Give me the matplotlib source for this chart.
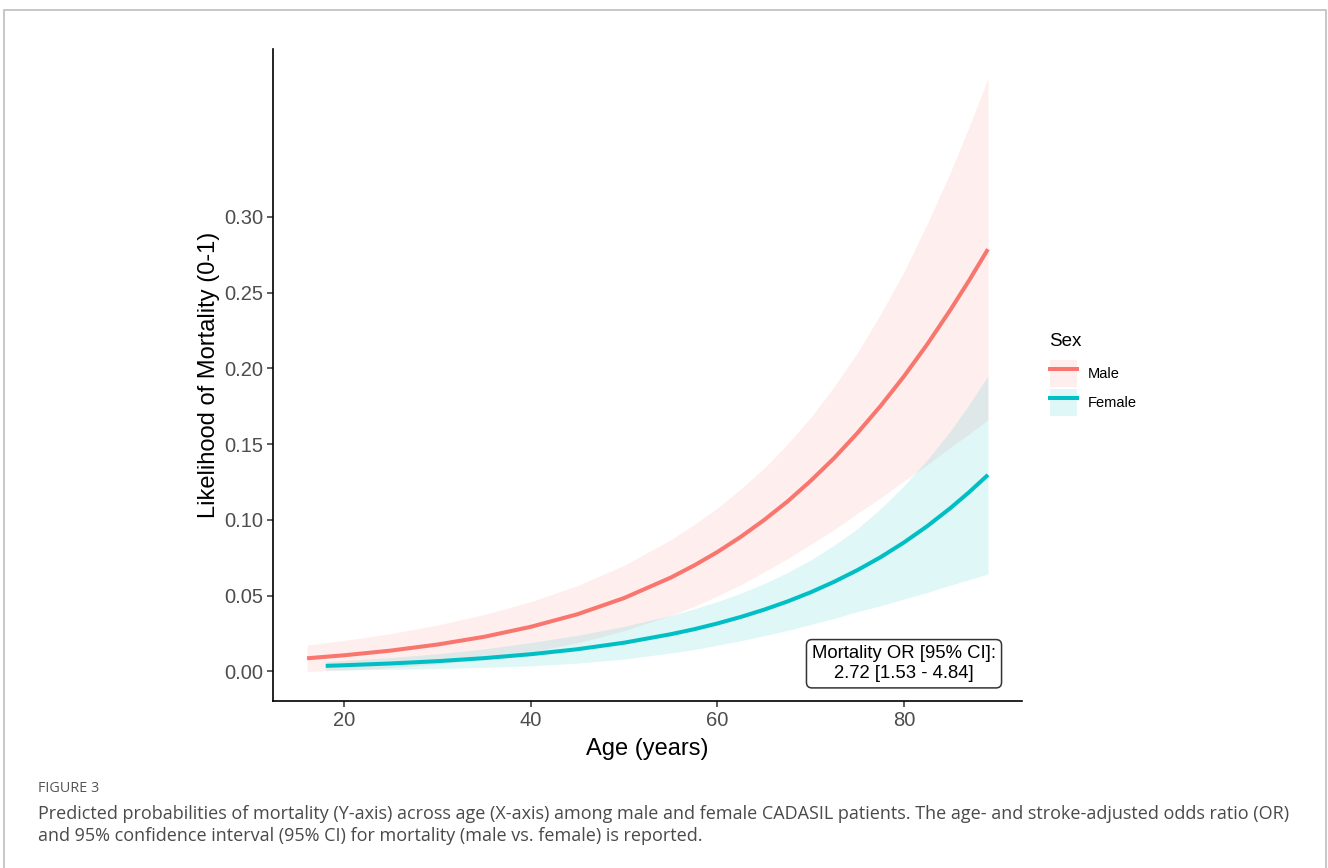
import numpy as np
import matplotlib
matplotlib.use("Agg")
import matplotlib.pyplot as plt
from matplotlib.patches import Patch, Rectangle
from matplotlib.lines import Line2D
from matplotlib.legend_handler import HandlerTuple

# predicted probability of mortality by age
male_age = [16, 20, 25, 30, 35, 40, 45, 50, 55, 57.5, 60, 62.5, 65, 67.5, 70,
            72.5, 75, 77.5, 80, 82.5, 85, 87, 89]
male_fit = [0.0086, 0.0106, 0.0137, 0.0177, 0.0228, 0.0294, 0.0377, 0.0484,
            0.0619, 0.0699, 0.0788, 0.0888, 0.0999, 0.1121, 0.1258,
            0.1407, 0.1573, 0.1753, 0.1948, 0.2160, 0.2389, 0.2583, 0.2787]
male_lo = [0.0000, 0.0008, 0.0025, 0.0048, 0.0081, 0.0128, 0.0188, 0.0268,
           0.0369, 0.0429, 0.0498, 0.0572, 0.0657, 0.0743, 0.0840,
           0.0935, 0.1043, 0.1146, 0.1258, 0.1364, 0.1480, 0.1568, 0.1661]
male_hi = [0.0173, 0.0204, 0.0249, 0.0306, 0.0375, 0.0460, 0.0566, 0.0700,
           0.0869, 0.0969, 0.1078, 0.1204, 0.1341, 0.1499, 0.1676,
           0.1879, 0.2103, 0.2360, 0.2638, 0.2956, 0.3298, 0.3598, 0.3913]

female_age = [18, 20, 25, 30, 35, 40, 45, 50, 55, 57.5, 60, 62.5, 65, 67.5, 70,
              72.5, 75, 77.5, 80, 82.5, 85, 87, 89]
female_fit = [0.0036, 0.0040, 0.0052, 0.0067, 0.0087, 0.0113, 0.0146, 0.0189,
              0.0245, 0.0278, 0.0316, 0.0359, 0.0407, 0.0461, 0.0522,
              0.0591, 0.0668, 0.0754, 0.0851, 0.0959, 0.1079, 0.1184, 0.1297]
female_lo = [0.0008, 0.0009, 0.0013, 0.0018, 0.0026, 0.0036, 0.0054, 0.0081,
             0.0121, 0.0144, 0.0172, 0.0202, 0.0235, 0.0270, 0.0309,
             0.0349, 0.0394, 0.0433, 0.0477, 0.0521, 0.0569, 0.0605, 0.0642]
female_hi = [0.0064, 0.0071, 0.0091, 0.0116, 0.0148, 0.0190, 0.0238, 0.0297,
             0.0369, 0.0412, 0.0460, 0.0516, 0.0579, 0.0652, 0.0735,
             0.0833, 0.0942, 0.1075, 0.1225, 0.1397, 0.1589, 0.1763, 0.1952]

x_ticks = [20, 40, 60, 80]
y_ticks = [0.00, 0.05, 0.10, 0.15, 0.20, 0.25, 0.30]
or_text = "Mortality OR [95% CI]:\n2.72 [1.53 - 4.84]"
caption_1 = ("Predicted probabilities of mortality (Y-axis) across age (X-axis) among male and female "
             "CADASIL patients. The age- and stroke-adjusted odds ratio (OR)")
caption_2 = "and 95% confidence interval (95% CI) for mortality (male vs. female) is reported."

c_male = "#F8766D"
c_female = "#00BFC4"

plt.rcParams['font.family'] = ['Liberation Sans', 'DejaVu Sans']

fig = plt.figure(figsize=(13.28, 8.68), dpi=100)
ax = fig.add_axes([273 / 1328, 1 - 701 / 868, (1022 - 273) / 1328, (701 - 49) / 868])

ax.fill_between(male_age, male_lo, male_hi, color=c_male, alpha=0.12, lw=0)
ax.fill_between(female_age, female_lo, female_hi, color=c_female, alpha=0.12, lw=0)
ax.plot(male_age, male_fit, color=c_male, lw=2.9, solid_capstyle='butt')
ax.plot(female_age, female_fit, color=c_female, lw=2.9, solid_capstyle='butt')

ax.set_xlim(12.35, 92.65)
ax.set_ylim(-0.0196, 0.4109)
ax.set_xticks(x_ticks)
ax.set_yticks(y_ticks)
ax.set_yticklabels([f"{v:.2f}" for v in y_ticks])
ax.tick_params(labelsize=14.5, labelcolor='#4D4D4D', color='#333333', length=4, width=1.1, pad=3)
for s in ['top', 'right']:
    ax.spines[s].set_visible(False)
for s in ['left', 'bottom']:
    ax.spines[s].set_linewidth(1.2)
    ax.spines[s].set_color('black')

ax.set_xlabel("Age (years)", fontsize=17, labelpad=6)
ax.set_ylabel("Likelihood of Mortality (0-1)", fontsize=17, labelpad=3)

ax.text(80, 0.005, or_text, ha='center', va='center', fontsize=13.3, linespacing=1.25,
        bbox=dict(boxstyle='round,pad=0.3,rounding_size=0.3', fc='white', ec='#333333', lw=1.1))

# legend: title as separate text so the gap above the keys matches
fig.text(1049 / 1328, 1 - 342 / 868, "Sex", fontsize=13.5, va='center', ha='left')
handles = [(Patch(facecolor=c_male, alpha=0.12, lw=0), Line2D([], [], color=c_male, lw=2.9)),
           (Patch(facecolor=c_female, alpha=0.12, lw=0), Line2D([], [], color=c_female, lw=2.9))]
leg = fig.legend(handles, ["Male", "Female"], loc='upper left',
                 bbox_to_anchor=(1050 / 1328, 1 - 360 / 868), frameon=False,
                 handler_map={tuple: HandlerTuple(ndivide=1, pad=0)},
                 fontsize=10.5, handlelength=1.85, handleheight=2.47,
                 labelspacing=0.14, handletextpad=0.75, borderpad=0, borderaxespad=0)

# caption and outer frame
fig.text(38 / 1328, 1 - 789 / 868, "FIGURE 3", fontsize=10.4, color='#555555',
         family=['Open Sans', 'DejaVu Sans'], va='center')
fig.text(38 / 1328, 1 - 814 / 868, caption_1, fontsize=13, color='#4a4a4a',
         family=['Open Sans', 'DejaVu Sans'], va='center')
fig.text(38 / 1328, 1 - 836 / 868, caption_2, fontsize=13, color='#4a4a4a',
         family=['Open Sans', 'DejaVu Sans'], va='center')
fig.add_artist(Rectangle((4 / 1328, -0.02), 1322 / 1328, 1.02 - 10 / 868, transform=fig.transFigure,
                         fill=False, ec='#BDBDBD', lw=1.2))

fig.savefig("out.png", dpi=100)
